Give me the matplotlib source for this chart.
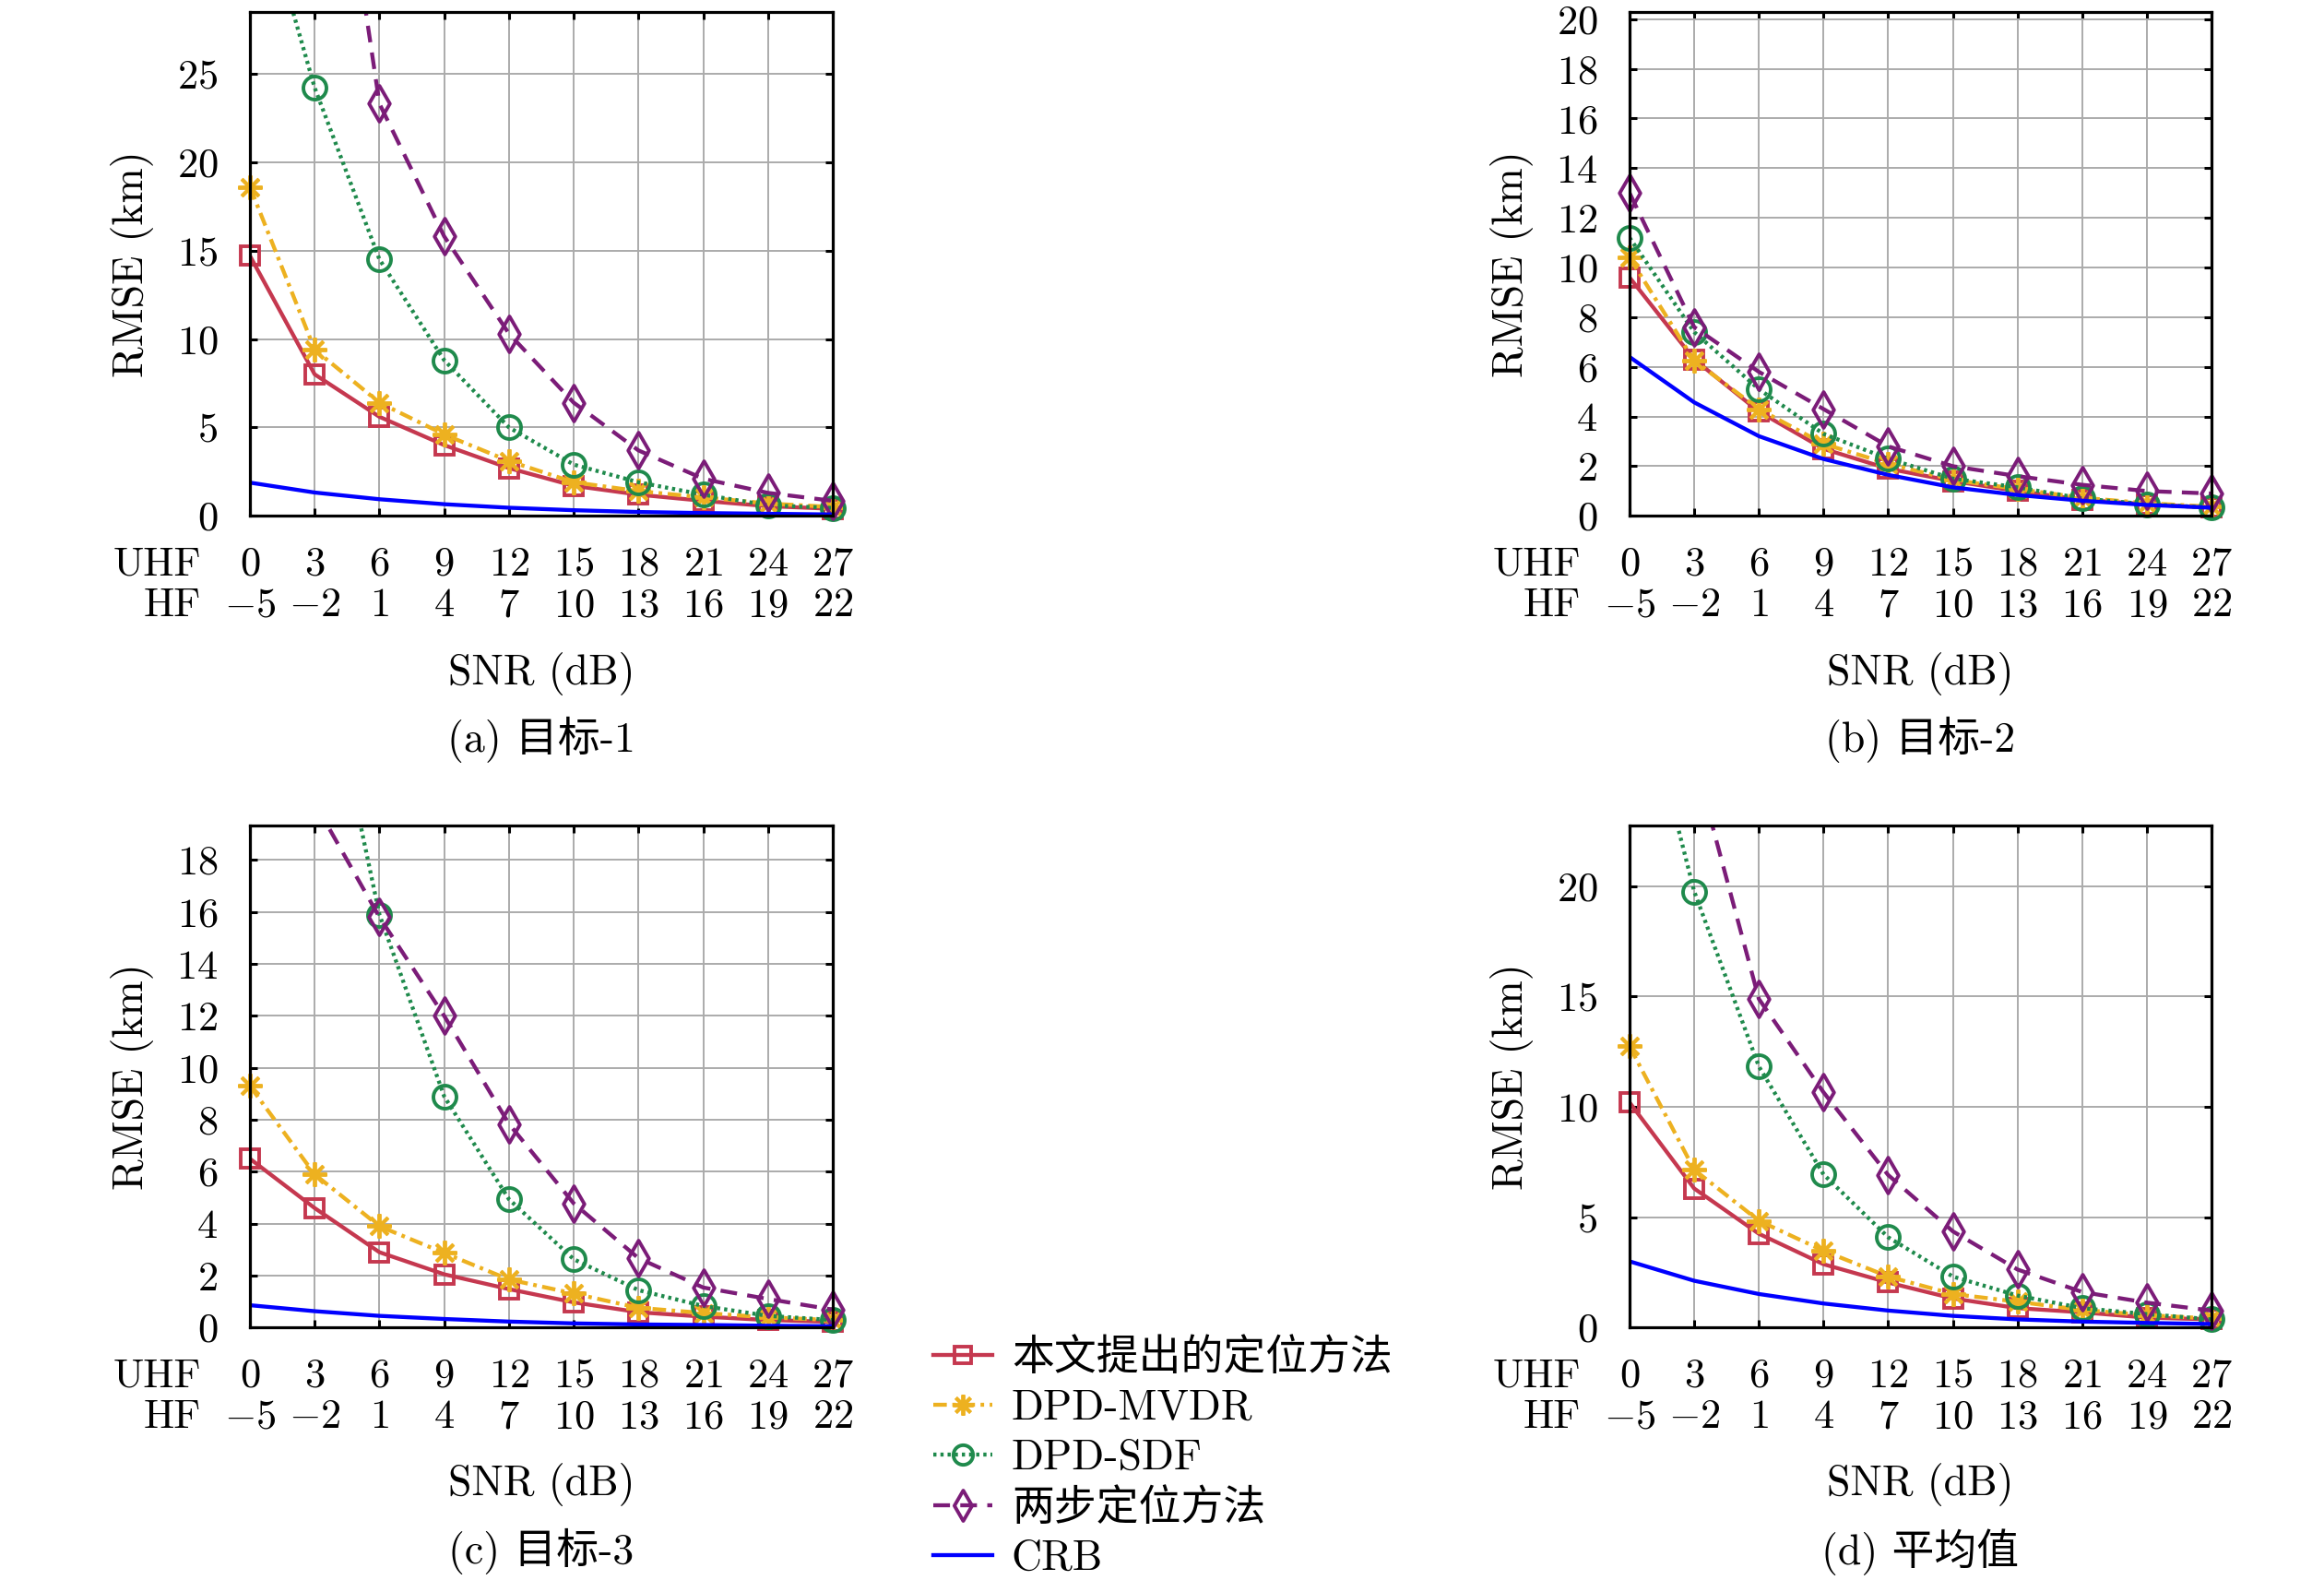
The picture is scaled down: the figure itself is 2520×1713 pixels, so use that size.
import numpy as np
import matplotlib
matplotlib.use("Agg")
import matplotlib.pyplot as plt
from matplotlib.lines import Line2D
from matplotlib.path import Path

plt.rcParams['font.family'] = ['cmr10', 'Noto Sans CJK SC']
plt.rcParams['mathtext.fontset'] = 'cm'
plt.rcParams['axes.unicode_minus'] = False
plt.rcParams['axes.formatter.use_mathtext'] = True

# ---------------- data ----------------
snr_uhf = [0, 3, 6, 9, 12, 15, 18, 21, 24, 27]
snr_hf = [-5, -2, 1, 4, 7, 10, 13, 16, 19, 22]

labels = ['本文提出的定位方法', 'DPD-MVDR', 'DPD-SDF', '两步定位方法', 'CRB']

# target 1
t1_prop = [14.7, 8.0, 5.6, 4.0, 2.7, 1.7, 1.2, 0.85, 0.55, 0.4]
t1_mvdr = [18.6, 9.4, 6.4, 4.6, 3.1, 1.9, 1.4, 1.05, 0.7, 0.5]
t1_sdf = [37.0, 24.2, 14.5, 8.8, 5.0, 2.9, 1.9, 1.2, 0.6, 0.45]
t1_two = [80.0, 48.0, 23.3, 15.8, 10.3, 6.4, 3.7, 2.1, 1.3, 0.85]
t1_crb = [1.88, 1.32, 0.94, 0.66, 0.46, 0.32, 0.22, 0.16, 0.12, 0.08]

# target 2
t2_prop = [9.6, 6.3, 4.2, 2.7, 1.9, 1.4, 1.0, 0.65, 0.47, 0.33]
t2_mvdr = [10.4, 6.25, 4.3, 2.9, 2.1, 1.45, 1.08, 0.73, 0.51, 0.37]
t2_sdf = [11.2, 7.4, 5.1, 3.3, 2.3, 1.5, 1.15, 0.7, 0.47, 0.33]
t2_two = [13.0, 7.6, 5.8, 4.3, 2.8, 2.0, 1.6, 1.25, 1.0, 0.9]
t2_crb = [6.4, 4.57, 3.21, 2.29, 1.65, 1.15, 0.84, 0.61, 0.44, 0.33]

# target 3
t3_prop = [6.5, 4.6, 2.9, 2.05, 1.48, 0.97, 0.59, 0.42, 0.29, 0.22]
t3_mvdr = [9.3, 5.9, 3.9, 2.87, 1.85, 1.31, 0.76, 0.56, 0.39, 0.29]
t3_sdf = [45.0, 27.7, 15.9, 8.9, 4.94, 2.63, 1.44, 0.83, 0.45, 0.29]
t3_two = [28.0, 20.2, 15.8, 12.0, 7.84, 4.78, 2.67, 1.54, 1.1, 0.69]
t3_crb = [0.86, 0.63, 0.45, 0.33, 0.23, 0.16, 0.12, 0.1, 0.07, 0.05]

# average
av_prop = [10.2, 6.3, 4.25, 2.87, 2.04, 1.32, 0.88, 0.69, 0.45, 0.37]
av_mvdr = [12.74, 7.15, 4.84, 3.48, 2.31, 1.52, 1.17, 0.8, 0.56, 0.41]
av_sdf = [31.3, 19.76, 11.83, 6.94, 4.09, 2.31, 1.45, 0.88, 0.61, 0.37]
av_two = [40.0, 25.8, 14.89, 10.66, 6.91, 4.36, 2.63, 1.61, 1.13, 0.77]
av_crb = [3.0, 2.12, 1.52, 1.09, 0.77, 0.53, 0.37, 0.27, 0.21, 0.16]

panels = [
    dict(series=[t1_prop, t1_mvdr, t1_sdf, t1_two, t1_crb], ymax=28.5,
         yticks=[0, 5, 10, 15, 20, 25], caption='(a) 目标-1'),
    dict(series=[t2_prop, t2_mvdr, t2_sdf, t2_two, t2_crb], ymax=20.3,
         yticks=list(range(0, 21, 2)), caption='(b) 目标-2'),
    dict(series=[t3_prop, t3_mvdr, t3_sdf, t3_two, t3_crb], ymax=19.33,
         yticks=list(range(0, 19, 2)), caption='(c) 目标-3'),
    dict(series=[av_prop, av_mvdr, av_sdf, av_two, av_crb], ymax=22.75,
         yticks=[0, 5, 10, 15, 20], caption='(d) 平均值'),
]

# ---------------- styles ----------------
diamond = Path([(0, 1), (0.58, 0), (0, -1), (-0.58, 0), (0, 1)],
               [Path.MOVETO, Path.LINETO, Path.LINETO, Path.LINETO, Path.CLOSEPOLY])
colors = ['#C5384F', '#EDB120', '#1F8A4C', '#7B1C78', '#0000FF']
lstyles = ['-', (0, (3.4, 1.4, 0.9, 1.4)), (0, (0.8, 1.0)), (0, (4.2, 2.6)), '-']
markers = ['s', (8, 2, 0), 'o', diamond, None]
msizes = [15, 19, 18, 28, 0]
LW = 3.1
MEW = 2.8

W, H = 2520, 1713
fig = plt.figure(figsize=(W / 100, H / 100), dpi=100)

boxes = [  # left, top, right, bottom in pixels
    (271, 12.7, 903, 559.3),
    (1767, 12.7, 2398, 559.3),
    (271, 895, 903, 1439.3),
    (1767, 895, 2398, 1439.3),
]

FS = 32
for p, (l, t, r, b) in zip(panels, boxes):
    ax = fig.add_axes([l / W, 1 - b / H, (r - l) / W, (b - t) / H])
    ymax = p['ymax']
    for i, y in enumerate(p['series']):
        y = np.asarray(y, dtype=float)
        ax.plot(snr_uhf, y, color=colors[i], ls=lstyles[i], lw=LW, zorder=3 + i)
        if markers[i] is not None:
            ym = np.where(y <= ymax, y, np.nan)
            ax.plot(snr_uhf, ym, ls='none', marker=markers[i], ms=msizes[i],
                    mfc='none', mec=colors[i], mew=MEW, clip_on=False, zorder=3 + i)
    ax.set_xlim(0, 27)
    ax.set_ylim(0, ymax)
    ax.set_yticks(p['yticks'])
    ax.set_xticks(snr_uhf)
    ax.set_xticklabels([f'${u}$\n${h}$' for u, h in zip(snr_uhf, snr_hf)],
                       linespacing=1.15)
    ax.grid(True, color='#ababab', lw=1.4)
    ax.set_axisbelow(True)
    for s in ax.spines.values():
        s.set_linewidth(2.3)
        s.set_zorder(20)
    ax.tick_params(direction='in', top=True, right=True, length=6, width=2.2,
                   labelsize=FS)
    ax.tick_params(axis='x', pad=24)
    ax.tick_params(axis='y', pad=25)
    ax.set_ylabel('RMSE (km)', fontsize=FS + 1)
    ax.yaxis.set_label_coords(-0.165, 0.5)
    ax.set_xlabel('SNR (dB)', fontsize=FS + 1)
    ax.xaxis.set_label_coords(0.5, -0.27)
    ax.annotate('UHF\nHF', xy=(0, 0), xycoords='axes fraction',
                xytext=(-38, -24), textcoords='offset points',
                ha='right', va='top', fontsize=FS, linespacing=1.15)
    fig.text((l + r) / 2 / W, 1 - (b + 243) / H, p['caption'], ha='center',
             va='center', fontsize=FS + 1)

handles = [Line2D([], [], color=colors[i], ls=lstyles[i], lw=LW,
                  marker=markers[i] if markers[i] is not None else None,
                  ms=msizes[i] * 0.85, mfc='none', mec=colors[i], mew=MEW)
           for i in range(5)]
fig.legend(handles, labels, loc='upper left',
           bbox_to_anchor=(1012 / W, 1 - 1451 / H), frameon=False,
           fontsize=FS + 1, handlelength=1.4, handletextpad=0.45,
           labelspacing=0.27, borderpad=0, borderaxespad=0, numpoints=1)

fig.savefig('out.png', dpi=100)
